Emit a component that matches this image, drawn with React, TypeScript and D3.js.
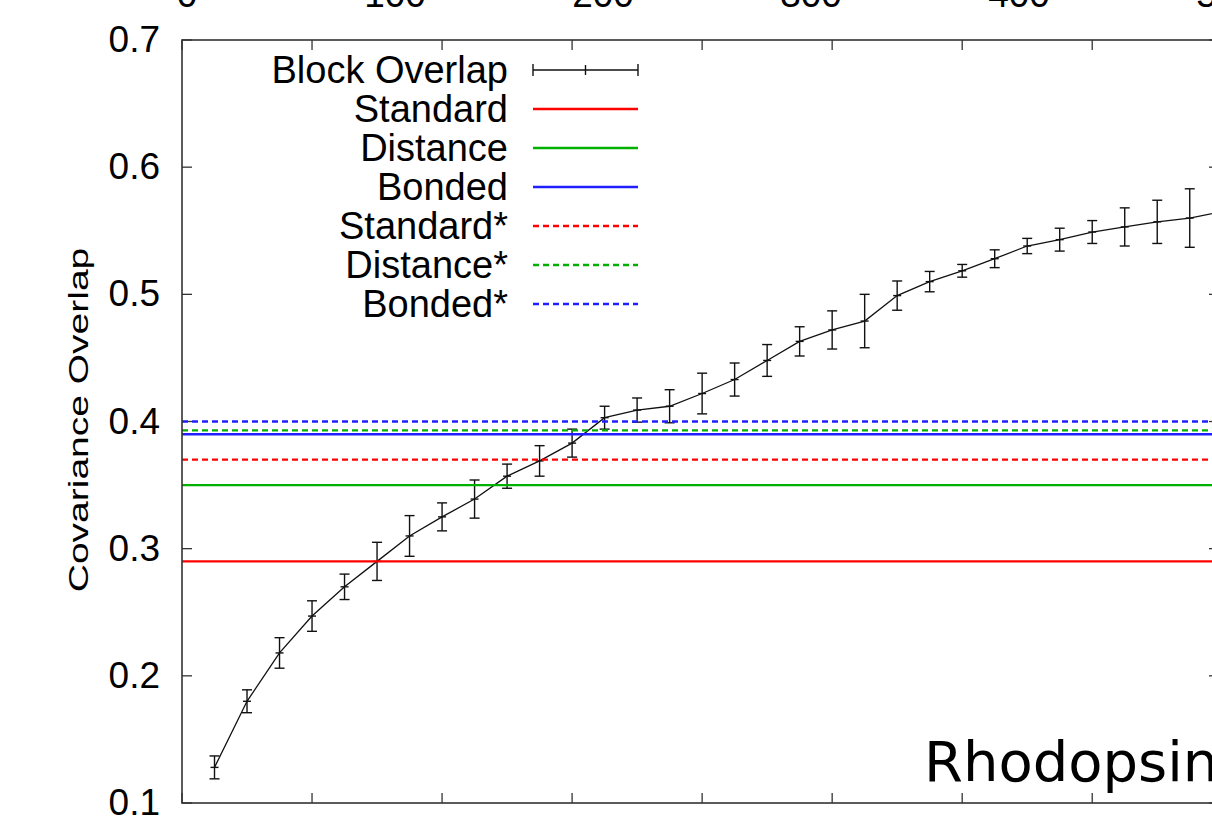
import React from "react";
import * as d3 from "d3";

// ---- data ----
const blockX = [5, 10, 15, 20, 25, 30, 35, 40, 45, 50, 55, 60, 65, 70, 75, 80, 85, 90, 95, 100, 105, 110, 115, 120, 125, 130, 135, 140, 145, 150, 155, 160];
const blockY = [0.128, 0.18, 0.218, 0.247, 0.27, 0.29, 0.31, 0.325, 0.339, 0.357, 0.369, 0.383, 0.403, 0.409, 0.412, 0.422, 0.433, 0.448, 0.463, 0.472, 0.479, 0.499, 0.51, 0.5185, 0.528, 0.538, 0.543, 0.549, 0.553, 0.557, 0.56, 0.565];
const blockErr = [0.009, 0.009, 0.012, 0.012, 0.01, 0.015, 0.016, 0.011, 0.015, 0.0095, 0.012, 0.011, 0.009, 0.0095, 0.013, 0.016, 0.013, 0.0125, 0.0115, 0.015, 0.021, 0.0115, 0.008, 0.005, 0.007, 0.006, 0.009, 0.009, 0.015, 0.017, 0.023, 0.02];

const refNames = ["Standard", "Distance", "Bonded", "Standard*", "Distance*", "Bonded*"];
const refValues = [0.29, 0.35, 0.39, 0.37, 0.393, 0.4];
const refColors = ["#ff0000", "#00b000", "#2020ff", "#ff0000", "#00b000", "#2020ff"];
const refDashed = [false, false, false, true, true, true];

const yTicks = [0.1, 0.2, 0.3, 0.4, 0.5, 0.6, 0.7];
const xTicks = [0, 20, 40, 60, 80, 100, 120, 140];
const topLabels = [0, 100, 200, 300, 400, 500];

const seriesName = "Block Overlap";
const yTitle = "Covariance Overlap";
const panelTitle = "Rhodopsin";

export default function App() {
  const W = 1212, H = 818;
  const L = 182, R = 1219, T = 40, B = 803;
  const x = d3.scaleLinear().domain([0, 159.5]).range([L, R]);
  const y = d3.scaleLinear().domain([0.1, 0.7]).range([B, T]);
  const xTop = d3.scaleLinear().domain([0, 500]).range([187, 1227]);

  const pts = blockX.map((v, i) => ({ x: v, y: blockY[i], e: blockErr[i] }));
  const line = d3.line<{ x: number; y: number }>().x(d => x(d.x)).y(d => y(d.y));

  const sans = "'Liberation Sans', Arial, Helvetica, sans-serif";
  const frame = "#333";
  const tickLen = 10;
  const legTextX = 508, legX1 = 533, legX2 = 638;
  const legY0 = 70, legDy = 39;

  return (
    <svg width={W} height={H} style={{ position: "absolute", left: 0, top: 0, background: "#fff" }}>
      <defs>
        <clipPath id="plotclip">
          <rect x={L} y={T} width={R - L} height={B - T} />
        </clipPath>
      </defs>
      <rect x={0} y={0} width={W} height={H} fill="#fff" />

      {/* cut-off labels of the panel above */}
      {topLabels.map(t => (
        <text key={"tl" + t} x={xTop(t)} y={7} textAnchor="middle" fontFamily={sans} fontSize={37} fill="#000">{t}</text>
      ))}

      {/* y tick labels */}
      {yTicks.map(t => (
        <text key={"yl" + t} x={160} y={y(t) + 12} textAnchor="end" fontFamily={sans} fontSize={37} fill="#000">{t.toFixed(1)}</text>
      ))}

      {/* y title */}
      <text transform={`translate(88,420) rotate(-90) scale(1,0.72)`} textAnchor="middle" fontFamily={sans} fontSize={39} fill="#000">{yTitle}</text>

      {/* ticks */}
      <g stroke={frame} strokeWidth={1.3}>
        {yTicks.map(t => (
          <g key={"yt" + t}>
            <line x1={L} x2={L + tickLen} y1={y(t)} y2={y(t)} />
            <line x1={R} x2={R - tickLen} y1={y(t)} y2={y(t)} />
          </g>
        ))}
        {xTicks.map(t => (
          <g key={"xt" + t}>
            <line x1={x(t)} x2={x(t)} y1={B} y2={B - tickLen} />
            <line x1={x(t)} x2={x(t)} y1={T} y2={T + tickLen} />
          </g>
        ))}
      </g>

      {/* data */}
      <g clipPath="url(#plotclip)">
        <path d={line(pts) || ""} fill="none" stroke="#111" strokeWidth={1.3} />
        <g stroke="#111" strokeWidth={1.4}>
          {pts.map((p, i) => {
            const cx = x(p.x), y1 = y(p.y - p.e), y2 = y(p.y + p.e), cy = y(p.y);
            return (
              <g key={"e" + i}>
                <line x1={cx} x2={cx} y1={y1} y2={y2} />
                <line x1={cx - 5} x2={cx + 5} y1={y1} y2={y1} />
                <line x1={cx - 5} x2={cx + 5} y1={y2} y2={y2} />
                <line x1={cx - 4} x2={cx + 4} y1={cy} y2={cy} />
              </g>
            );
          })}
        </g>
        {refValues.map((v, i) => (
          <line key={"r" + i} x1={L} x2={R} y1={y(v)} y2={y(v)} stroke={refColors[i]} strokeWidth={2.4}
            strokeDasharray={refDashed[i] ? "6,4" : undefined} />
        ))}
      </g>

      {/* frame */}
      <rect x={L} y={T} width={R - L} height={B - T} fill="none" stroke={frame} strokeWidth={1.6} />

      {/* legend */}
      <g>
        <text x={legTextX} y={legY0 + 13} textAnchor="end" fontFamily={sans} fontSize={38} fill="#000">{seriesName}</text>
        <g stroke="#111" strokeWidth={1.4}>
          <line x1={legX1} x2={legX2} y1={legY0} y2={legY0} />
          <line x1={legX1} x2={legX1} y1={legY0 - 6} y2={legY0 + 6} />
          <line x1={legX2} x2={legX2} y1={legY0 - 6} y2={legY0 + 6} />
          <line x1={(legX1 + legX2) / 2} x2={(legX1 + legX2) / 2} y1={legY0 - 5} y2={legY0 + 5} />
        </g>
        {refNames.map((n, i) => {
          const ly = legY0 + legDy * (i + 1);
          return (
            <g key={"lg" + i}>
              <text x={legTextX} y={ly + 13} textAnchor="end" fontFamily={sans} fontSize={38} fill="#000">{n}</text>
              <line x1={legX1} x2={legX2} y1={ly} y2={ly} stroke={refColors[i]} strokeWidth={2.4}
                strokeDasharray={refDashed[i] ? "6,4" : undefined} />
            </g>
          );
        })}
      </g>

      {/* panel title */}
      <text x={924} y={781} fontFamily="'DejaVu Sans', sans-serif" fontSize={56} fill="#000">{panelTitle}</text>
    </svg>
  );
}
